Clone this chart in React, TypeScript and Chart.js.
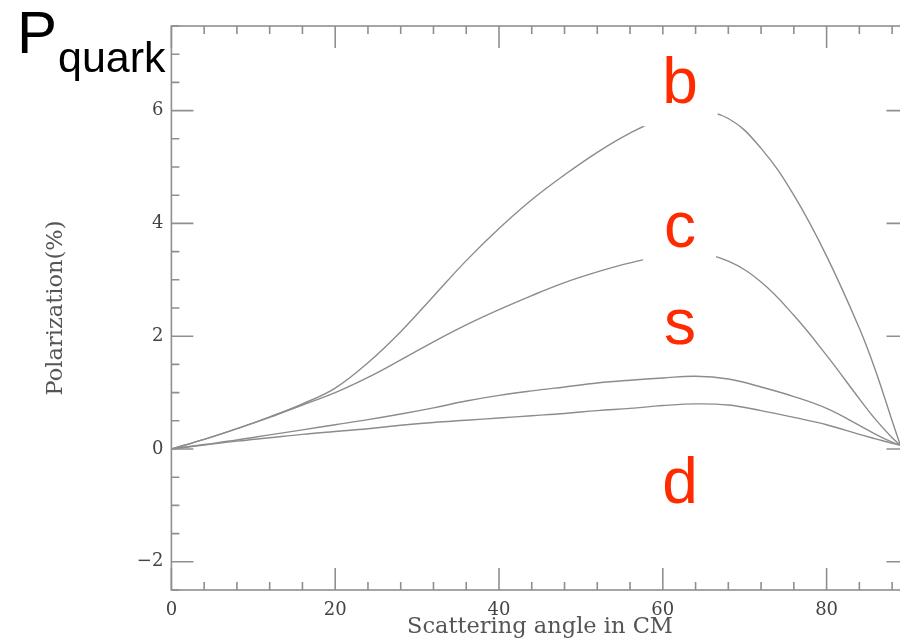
import { useEffect, useRef } from 'react';
import { Chart, registerables } from 'chart.js';

Chart.register(...registerables);

// Scattering angle in the centre-of-mass frame (degrees)
const angles = [0, 4, 8, 12, 16, 20, 24, 28, 32, 36, 40, 44, 48, 52, 56, 60, 64, 68, 72, 76, 80, 84, 86, 88, 89];

// Quark polarization (%) for each flavour
const polB = [0, 0.17, 0.36, 0.57, 0.8, 1.08, 1.53, 2.08, 2.71, 3.34, 3.91, 4.42, 4.86, 5.26, 5.6, 5.86, 5.98, 5.86, 5.33, 4.5, 3.42, 2.14, 1.38, 0.5, 0.07];
const polC = [0, 0.17, 0.36, 0.56, 0.78, 1.0, 1.27, 1.58, 1.9, 2.2, 2.47, 2.72, 2.95, 3.14, 3.3, 3.42, 3.47, 3.33, 2.96, 2.37, 1.66, 0.89, 0.52, 0.2, 0.07];
const polS = [0, 0.08, 0.16, 0.25, 0.34, 0.43, 0.52, 0.62, 0.73, 0.85, 0.95, 1.03, 1.1, 1.17, 1.22, 1.26, 1.29, 1.24, 1.1, 0.93, 0.72, 0.42, 0.26, 0.12, 0.07];
const polD = [0, 0.07, 0.14, 0.2, 0.26, 0.31, 0.36, 0.42, 0.47, 0.51, 0.55, 0.59, 0.63, 0.68, 0.72, 0.77, 0.8, 0.78, 0.68, 0.56, 0.43, 0.26, 0.18, 0.1, 0.07];

const flavours = ['b', 'c', 's', 'd'];
const xTickLabels = [0, 20, 40, 60, 80];
const yTickLabels = [-2, 0, 2, 4, 6];

const LINE = '#8c8c8c';
const AXIS = '#8f8f8f';
const FLAVOUR_RED = '#ff2a00';

// Inward PGPLOT-style frame with major/minor ticks on all four sides,
// flavour letters on white patches, and the P_quark heading.
const framePlugin = {
  id: 'pgFrame',
  afterDatasetsDraw(chart: any) {
    const { ctx, chartArea } = chart;
    const { left, right, top, bottom } = chartArea;
    const xs = chart.scales.x;
    const ys = chart.scales.y;
    ctx.save();
    ctx.strokeStyle = AXIS;
    ctx.lineWidth = 1.6;
    ctx.strokeRect(left, top, right - left, bottom - top);
    ctx.beginPath();
    for (let v = 0; v <= 90; v += 4) {
      const len = v % 20 === 0 ? 22 : 8;
      const px = xs.getPixelForValue(v);
      ctx.moveTo(px, bottom);
      ctx.lineTo(px, bottom - len);
      ctx.moveTo(px, top);
      ctx.lineTo(px, top + len);
    }
    for (let i = -5; i <= 15; i++) {
      const v = i / 2;
      const len = i % 4 === 0 ? 22 : 8;
      const py = ys.getPixelForValue(v);
      ctx.moveTo(left, py);
      ctx.lineTo(left + len, py);
      ctx.moveTo(right, py);
      ctx.lineTo(right - len, py);
    }
    ctx.stroke();

    // white patches behind the b and c letters
    ctx.fillStyle = '#ffffff';
    const patch = (x0: number, x1: number, y0: number, y1: number) => {
      const a = xs.getPixelForValue(x0);
      const b = xs.getPixelForValue(x1);
      const c = ys.getPixelForValue(y0);
      const d = ys.getPixelForValue(y1);
      ctx.fillRect(a, c, b - a, d - c);
    };
    patch(57.6, 66.7, 7.35, 5.72);
    patch(57.6, 66.5, 4.6, 3.25);

    // flavour letters
    ctx.fillStyle = FLAVOUR_RED;
    ctx.font = '64px "Liberation Sans", Arial, sans-serif';
    ctx.textAlign = 'center';
    ctx.textBaseline = 'alphabetic';
    const letterY = [6.13, 3.58, 1.86, -0.96];
    flavours.forEach((f, i) => {
      ctx.fillText(f, xs.getPixelForValue(62.1), ys.getPixelForValue(letterY[i]));
    });

    // heading
    ctx.fillStyle = '#000000';
    ctx.textAlign = 'left';
    ctx.font = '60px "Liberation Sans", Arial, sans-serif';
    ctx.fillText('P', 17, 53);
    ctx.font = '43px "Liberation Sans", Arial, sans-serif';
    ctx.fillText('quark', 58, 72);
    ctx.restore();
  },
};

export default function App() {
  const canvasRef = useRef<HTMLCanvasElement | null>(null);

  useEffect(() => {
    const canvas = canvasRef.current;
    if (!canvas) return;
    const series = [polB, polC, polS, polD];
    const chart = new Chart(canvas, {
      type: 'line',
      data: {
        datasets: series.map((vals, i) => ({
          label: flavours[i],
          data: angles.map((a, j) => ({ x: a, y: vals[j] })),
          borderColor: LINE,
          borderWidth: 1.4,
          pointRadius: 0,
          tension: 0.4,
          fill: false,
        })),
      },
      options: {
        responsive: false,
        animation: false,
        devicePixelRatio: 1,
        layout: { padding: { left: 0, top: 26, right: 21.5, bottom: 0 } },
        plugins: { legend: { display: false }, tooltip: { enabled: false } },
        scales: {
          x: {
            type: 'linear',
            min: 0,
            max: 90,
            afterBuildTicks: (axis: any) => {
              axis.ticks = xTickLabels.map((v) => ({ value: v }));
            },
            afterFit: (axis: any) => {
              axis.height = 49;
            },
            grid: { display: false, drawTicks: false },
            border: { display: false },
            ticks: {
              padding: 10,
              color: '#444',
              font: { family: '"DejaVu Serif", serif', size: 18 },
              maxRotation: 0,
            },
            title: {
              display: true,
              text: 'Scattering angle in CM',
              color: '#555',
              font: { family: '"DejaVu Serif", serif', size: 22.5 },
              padding: { top: 0, bottom: -2 },
            },
          },
          y: {
            type: 'linear',
            min: -2.5,
            max: 7.5,
            afterBuildTicks: (axis: any) => {
              axis.ticks = yTickLabels.map((v) => ({ value: v }));
            },
            afterFit: (axis: any) => {
              axis.width = 171.4;
            },
            grid: { display: false, drawTicks: false },
            border: { display: false },
            ticks: {
              padding: 8,
              color: '#444',
              font: { family: '"DejaVu Serif", serif', size: 18 },
              callback: (v: any) => String(v).replace('-', '\u2212'),
            },
            title: {
              display: true,
              text: 'Polarization(%)',
              color: '#555',
              font: { family: '"DejaVu Serif", serif', size: 22.5 },
              padding: { top: 42.2, bottom: 0 },
            },
          },
        },
      },
      plugins: [framePlugin],
    });
    return () => chart.destroy();
  }, []);

  return (
    <div
      style={{
        position: 'fixed',
        left: 0,
        top: 0,
        width: 900,
        height: 639,
        overflow: 'hidden',
        background: '#ffffff',
      }}
    >
      <canvas ref={canvasRef} width={930} height={639} style={{ display: 'block', width: 930, height: 639 }} />
    </div>
  );
}
